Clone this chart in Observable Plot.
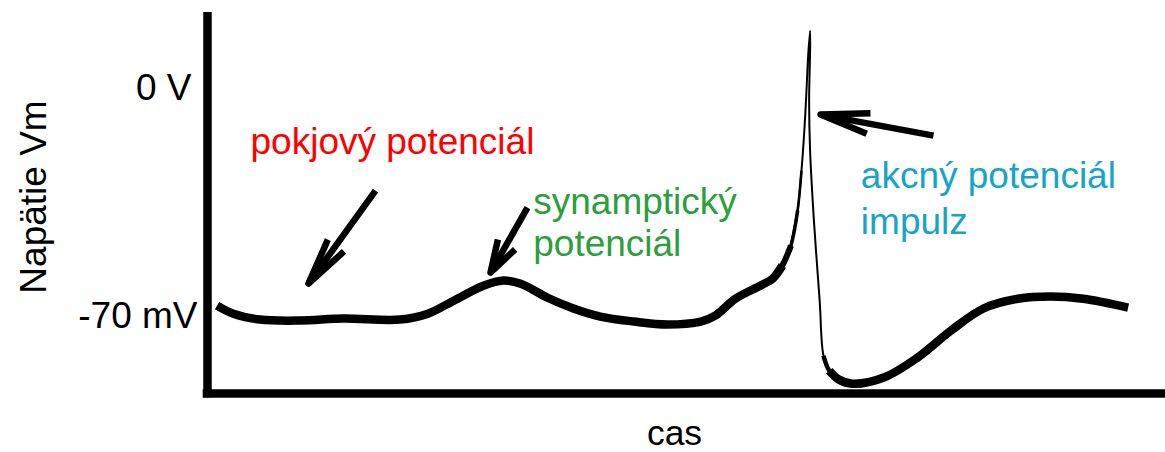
<!DOCTYPE html>
<html>
<head>
<meta charset="utf-8">
<script src="https://cdn.jsdelivr.net/npm/d3@7"></script>
<script src="https://cdn.jsdelivr.net/npm/@observablehq/plot@0.6"></script>
<style>
  html, body { margin: 0; padding: 0; background: #fff; }
  #chart svg { display: block; }
</style>
</head>
<body>
<div id="chart"></div>
<script>
// ---- Data ----
const timeMs = [0.10, 0.27, 0.55, 0.97, 1.42, 2.01, 2.30, 2.57, 2.88, 3.09, 3.27, 3.55, 3.82, 4.10, 4.45, 4.80, 5.15, 5.30, 5.51, 5.77, 5.90, 6.00,
                6.09, 6.16, 6.20, 6.23, 6.25, 6.27, 6.29, 6.29, 6.28, 6.29, 6.33, 6.39, 6.43,
                6.49, 6.59, 6.73, 7.06, 7.41, 7.76, 8.10, 8.46, 8.80, 9.14, 9.61];
const voltageMv = [-66.0, -68.5, -70.3, -70.6, -70.0, -70.3, -68.5, -64.5, -59.9, -58.3, -59.3, -63.6, -66.9, -69.4, -70.9, -71.8, -70.9, -69.1, -63.9, -59.9, -57.7, -53.7,
                   -47.6, -36.8, -24.6, -12.3, -1.5, 10.7, 18.4, 12.3, -3.1, -18.4, -39.9, -64.5, -81.4,
                   -86.0, -88.7, -90.0, -88.1, -82.0, -73.7, -66.9, -63.9, -63.2, -63.9, -66.6];

const tickValues = [0, -70];
const tickLabels = ["0 V", "-70 mV"];
const xLabel = "cas";
const yLabel = "Napätie Vm";

const noteTexts = ["pokjový potenciál", "synamptický\npotenciál", "akcný potenciál\nimpulz"];
const noteT = [0.449, 3.40, 6.82];
const noteV = [-19.3, -50.7, -43.9];

const arrowTailT = [1.754, 3.340, 7.578];
const arrowTailV = [-30.7, -35.9, -13.8];
const arrowTipT = [1.054, 2.954, 6.399];
const arrowTipV = [-59.25, -55.9, -7.35];

// ---- Layout / style ----
const W = 1165, H = 452;
const mL = 207, mR = 0, mT = 12, mB = 59;
const xDomain = [0, 10];
const yDomain = [-93, 24];
const FONT = "'Liberation Sans', Arial, Helvetica, sans-serif";
const FS = 37;
const noteColors = ["#ff0000", "#2c9e3c", "#16a4c8"];
const noteLineHeights = [1, 1.135, 1.243];
const headLen = [48, 34, 50];
const headHalfDeg = [12, 17, 12];
const tickDx = [-16, -10];

const xScaleOpts = {domain: xDomain, range: [mL, W - mR]};
const yScaleOpts = {domain: yDomain, range: [H - mB, mT]};
const xs = Plot.scale({x: xScaleOpts});
const ys = Plot.scale({y: yScaleOpts});

const trace = timeMs.map((t, i) => ({t, v: voltageMv[i]}));
const notes = noteTexts.map((text, i) => ({text, t: noteT[i], v: noteV[i]}));
const arrows = arrowTipT.map((_, i) => ({t1: arrowTailT[i], v1: arrowTailV[i], t2: arrowTipT[i], v2: arrowTipV[i]}));

// arrowheads (open V) computed in screen space, converted back through the scales
const heads = [];
arrows.forEach((a, i) => {
  const tx = xs.apply(a.t2), ty = ys.apply(a.v2);
  const sx = xs.apply(a.t1), sy = ys.apply(a.v1);
  const L = Math.hypot(sx - tx, sy - ty);
  const ux = (sx - tx) / L, uy = (sy - ty) / L;
  const ang = headHalfDeg[i] * Math.PI / 180;
  const wing = s => {
    const c = Math.cos(s * ang), sn = Math.sin(s * ang);
    const wx = tx + headLen[i] * (ux * c - uy * sn);
    const wy = ty + headLen[i] * (ux * sn + uy * c);
    return {a: i, t: xs.invert(wx), v: ys.invert(wy)};
  };
  heads.push(wing(-1), {a: i, t: a.t2, v: a.v2}, wing(1));
});

const lineOpts = {x: "t", y: "v", curve: "catmull-rom", stroke: "black", strokeLinecap: "butt", strokeLinejoin: "round"};

const marks = [
  // axes
  Plot.ruleX([0], {y1: -94.3, y2: yDomain[1], stroke: "black", strokeWidth: 8.5}),
  Plot.ruleY([yDomain[0]], {x1: -0.045, x2: xDomain[1], stroke: "black", strokeWidth: 8.5}),
  // membrane potential trace (line tapers on the spike)
  Plot.line(trace.slice(0, 22), {...lineOpts, strokeWidth: 8.5}),
  Plot.line(trace.slice(20, 23), {...lineOpts, strokeWidth: 6}),
  Plot.line(trace.slice(21, 24), {...lineOpts, strokeWidth: 3.5}),
  Plot.line(trace.slice(22, 25), {...lineOpts, strokeWidth: 2.6}),
  Plot.line(trace.slice(22, 37), {...lineOpts, strokeWidth: 2}),
  Plot.line(trace.slice(34, 38), {...lineOpts, strokeWidth: 4.5}),
  Plot.line(trace.slice(35), {...lineOpts, strokeWidth: 8.5}),
  // arrows
  Plot.link(arrows, {x1: "t1", y1: "v1", x2: "t2", y2: "v2", stroke: "black", strokeWidth: 6.5, strokeLinecap: "butt"}),
  Plot.line(heads, {x: "t", y: "v", z: "a", stroke: "black", strokeWidth: 6.5, strokeLinecap: "butt", strokeLinejoin: "round"}),
  // annotations
  ...notes.map((n, i) => Plot.text([n], {
    x: "t", y: "v", text: "text", fill: noteColors[i], textAnchor: "start", lineAnchor: "bottom",
    lineHeight: noteLineHeights[i], fontSize: FS, fontFamily: FONT
  })),
  // tick labels
  ...tickValues.map((tv, i) => Plot.text([tv], {
    frameAnchor: "left", y: d => d, text: () => tickLabels[i], textAnchor: "end",
    dx: tickDx[i], dy: -2.5, fill: "black", fontSize: FS, fontFamily: FONT
  })),
  // axis titles
  Plot.text([yLabel], {frameAnchor: "left", text: d => d, rotate: -90, textAnchor: "middle", lineAnchor: "middle",
    dx: -173.8, dy: -6, fill: "black", fontSize: FS, fontFamily: FONT}),
  Plot.text([xLabel], {frameAnchor: "bottom", text: d => d, textAnchor: "middle", lineAnchor: "bottom",
    dx: -12, dy: 51.5, fill: "black", fontSize: 35.5, fontFamily: FONT})
];

const chart = Plot.plot({
  width: W, height: H,
  marginLeft: mL, marginRight: mR, marginTop: mT, marginBottom: mB,
  x: {...xScaleOpts, axis: null},
  y: {...yScaleOpts, axis: null},
  style: {fontFamily: FONT, background: "white", overflow: "visible"},
  marks
});
document.getElementById("chart").appendChild(chart);
</script>
</body>
</html>
